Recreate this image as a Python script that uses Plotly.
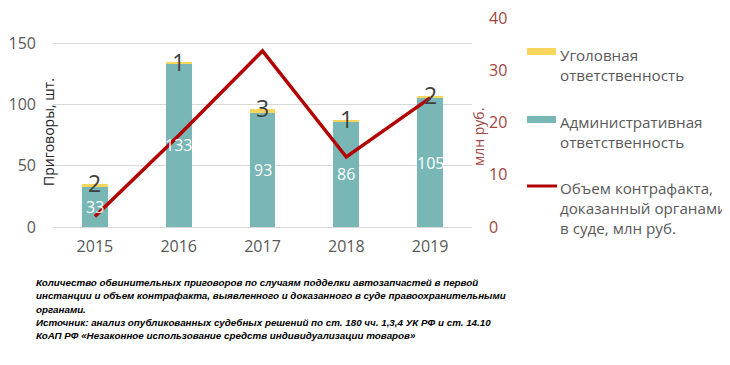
import plotly.graph_objects as go

years = ["2015", "2016", "2017", "2018", "2019"]
admin = [33, 133, 93, 86, 105]
criminal = [2, 1, 3, 1, 2]
volume_mln = [2, 17.5, 33.7, 13.4, 24.7]

left_ticks = [0, 50, 100, 150]
right_ticks = [0, 10, 20, 30, 40]

legend_labels = ["Уголовная<br>ответственность",
                 "Административная<br>ответственность",
                 "Объем контрафакта,<br>доказанный органами<br>в суде, млн руб."]
caption_lines = [
    "Количество обвинительных приговоров по случаям подделки автозапчастей в первой",
    "инстанции и объем контрафакта, выявленного и доказанного в суде правоохранительными",
    "органами.",
    "Источник: анализ опубликованных судебных решений по ст. 180 чч. 1,3,4 УК РФ и ст. 14.10",
    "КоАП РФ «Незаконное использование средств индивидуализации товаров»",
]
y_title = "Приговоры, шт."
y2_title = "млн руб."

TEAL = "#78B7B5"
YELLOW = "#F8D55B"
RED = "#B30000"
GREY = "#595959"
AXRED = "#A4453F"
FONT = "Open Sans, Noto Sans, sans-serif"
CAPFONT = "Liberation Sans, Arial, sans-serif"

OFF = 8  # page body margin
W, H = 730 - OFF, 365 - OFF
L, R, T, B = 53 - OFF, 472 - OFF, 18 - OFF, 227 - OFF

def px(x):
    return (x - OFF - L) / (R - L)

def py(y):
    return (B - (y - OFF)) / (B - T)

fig = go.Figure()
fig.add_trace(go.Bar(x=years, y=admin, marker_color=TEAL, marker_line_width=0,
                     name="adm", showlegend=False, hoverinfo="skip"))
fig.add_trace(go.Bar(x=years, y=criminal, marker_color=YELLOW, marker_line_width=0,
                     name="crim", showlegend=False, hoverinfo="skip"))
fig.add_trace(go.Scatter(x=years, y=volume_mln, yaxis="y2", mode="lines",
                         line=dict(color=RED, width=3.5), showlegend=False,
                         hoverinfo="skip"))

annotations = []
for i, (a, c) in enumerate(zip(admin, criminal)):
    annotations.append(dict(x=i, y=a / 2, xref="x", yref="y", text=str(a),
                            showarrow=False, xanchor="center", yanchor="middle",
                            font=dict(family=FONT, size=16, color="white")))
    annotations.append(dict(x=i, y=a + c, xref="x", yref="y", text=str(c),
                            showarrow=False, yshift=1, xanchor="center", yanchor="middle",
                            font=dict(family=FONT, size=23, color="#404040")))

# axis titles
annotations.append(dict(x=px(49), y=py(132), xref="paper", yref="paper", text=y_title,
                        textangle=-90, showarrow=False, xanchor="center", yanchor="middle",
                        font=dict(family=FONT, size=14, color="#262626")))
annotations.append(dict(x=px(478), y=py(137), xref="paper", yref="paper", text=y2_title,
                        textangle=-90, showarrow=False, xanchor="center", yanchor="middle",
                        font=dict(family=FONT, size=14, color=AXRED)))

# manual legend
shapes = []
shapes.append(dict(type="rect", xref="paper", yref="paper", x0=px(527), x1=px(556),
                   y0=py(55), y1=py(48), fillcolor=YELLOW, line_width=0))
shapes.append(dict(type="rect", xref="paper", yref="paper", x0=px(527), x1=px(556),
                   y0=py(123), y1=py(116), fillcolor=TEAL, line_width=0))
shapes.append(dict(type="line", xref="paper", yref="paper", x0=px(527), x1=px(557),
                   y0=py(186), y1=py(186), line=dict(color=RED, width=3)))
leg_tops = [43, 110, 176]
for lab, top in zip(legend_labels, leg_tops):
    annotations.append(dict(x=px(558), y=py(top), xref="paper", yref="paper", text=lab,
                            showarrow=False, xanchor="left", yanchor="top", align="left",
                            font=dict(family=FONT, size=15.2, color=GREY)))

# caption
cap_y = [282, 295.5, 309, 322, 335.5]
for line, yy in zip(caption_lines, cap_y):
    annotations.append(dict(x=px(34), y=py(yy), xref="paper", yref="paper",
                            text="<b><i>" + line + "</i></b>", showarrow=False,
                            xanchor="left", yanchor="middle",
                            font=dict(family=CAPFONT, size=9.8, color="black")))

fig.update_layout(
    width=W, height=H,
    margin=dict(l=L, r=W - R, t=T, b=H - B, pad=0, autoexpand=False),
    paper_bgcolor="white", plot_bgcolor="white",
    barmode="stack", bargap=0.69,
    showlegend=False,
    font=dict(family=FONT, color=GREY),
    xaxis=dict(type="category", tickfont=dict(size=16, color=GREY), showgrid=False,
               showline=False, ticks="", ticklabelstandoff=8, automargin=False),
    yaxis=dict(range=[0, 170.4], tickvals=left_ticks, showgrid=True, gridcolor="#D9D9D9",
               gridwidth=1, zeroline=True, zerolinecolor="#D9D9D9", zerolinewidth=1,
               tickfont=dict(size=16, color=GREY), ticks="", ticklabelstandoff=16,
               showline=False, automargin=False),
    yaxis2=dict(range=[0, 40], tickvals=right_ticks, overlaying="y", side="right",
                showgrid=False, zeroline=False, showline=False, ticklabeloverflow="allow",
                tickfont=dict(size=16, color=AXRED), ticks="", ticklabelstandoff=16,
                automargin=False),
    annotations=annotations,
    shapes=shapes,
)

fig.write_html("out.html")
